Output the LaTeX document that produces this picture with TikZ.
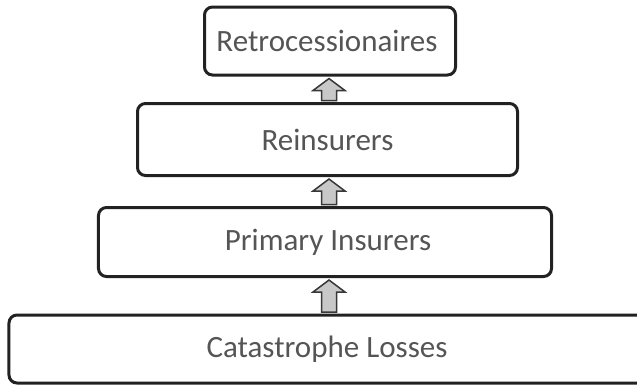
\documentclass[tikz,border=0pt]{standalone}
\usepackage{fontspec}
\setmainfont{Carlito}
\usetikzlibrary{calc}
\definecolor{txtgray}{HTML}{555555}
\definecolor{linedark}{HTML}{222222}
\definecolor{arrfill}{HTML}{C8C8C8}
\tikzset{
  tier/.style={draw=linedark, line width=3bp, rounded corners=8bp, fill=white,
    text=txtgray, font=\fontsize{31bp}{37bp}\selectfont, inner sep=0pt},
  blockarr/.style={draw=linedark!90, line width=1.5bp, fill=arrfill, line join=miter},
}
\newcommand\upblockarrow[2]{%
  \draw[blockarr] ($(ax |- #1.south)+(0,2)$) -- ++(16,12) -- ++(-8.5,0)
    -- ($(ax |- #2.north)+(7.5,-1.5)$) -- ++(-15,0)
    -- ($(ax |- #1.south)+(-7.5,14)$) -- ++(-8.5,0) -- cycle;}
\begin{document}
\begin{tikzpicture}[x=1bp,y=-1bp]
  \useasboundingbox (0,0) rectangle (637,386);
  \clip (0,0) rectangle (637,386);
  \fill[white] (0,0) rectangle (637,386);
  \coordinate (ax) at (329,0);
  \node[tier, minimum width=251bp, minimum height=68bp] (b1) at (330,41) {\hspace*{-6bp}Retrocessionaires};
  \node[tier, minimum width=380bp, minimum height=72bp] (b2) at (327.5,139.5) {Reinsurers};
  \node[tier, minimum width=453bp, minimum height=69bp] (b3) at (325,242) {\hspace*{6bp}Primary Insurers};
  \node[tier, minimum width=636bp, minimum height=68bp] (b4) at (327,349) {Catastrophe Losses};
  \upblockarrow{b1}{b2}
  \upblockarrow{b2}{b3}
  \upblockarrow{b3}{b4}
\end{tikzpicture}
\end{document}
